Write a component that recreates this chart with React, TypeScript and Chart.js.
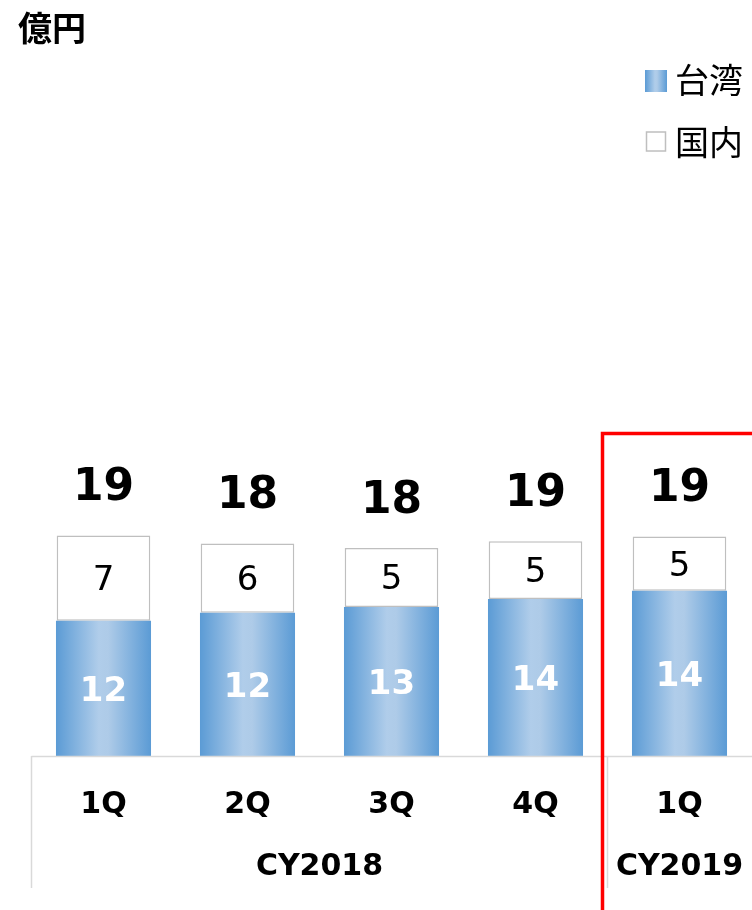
import React, { useEffect, useRef } from "react";
import { Chart, registerables } from "chart.js";
Chart.register(...registerables);

const categories = ["1Q", "2Q", "3Q", "4Q", "1Q"];
const years = ["CY2018", "CY2019"];
const yearSpans = [4, 1];
const taiwan = [11.7, 12.4, 12.9, 13.6, 14.3];
const domestic = [7.4, 6.0, 5.1, 5.0, 4.7];
const unitLabel = "億円";
const seriesNames = ["台湾", "国内"];

const W = 752;
const H = 910;
const BAR_PCT = 0.66;
const LATIN = '"DejaVu Sans", Verdana, sans-serif';
const CJK = '"Noto Sans CJK JP", "Noto Sans CJK SC", sans-serif';

function blueGradient(ctx: CanvasRenderingContext2D, left: number, right: number) {
  const g = ctx.createLinearGradient(left, 0, right, 0);
  g.addColorStop(0, "#5b9bd5");
  g.addColorStop(0.45, "#b0cdea");
  g.addColorStop(0.55, "#aecbe8");
  g.addColorStop(1, "#5b9bd5");
  return g;
}

const overlay = {
  id: "overlay",
  afterDraw(chart: any) {
    const ctx: CanvasRenderingContext2D = chart.ctx;
    const area = chart.chartArea;
    const xs = chart.scales.x;
    const n = categories.length;
    const cw = area.width / n;
    const base = area.bottom;
    ctx.save();

    // title
    ctx.fillStyle = "#000";
    ctx.font = `bold 34px ${CJK}`;
    ctx.textAlign = "left";
    ctx.textBaseline = "middle";
    ctx.fillText(unitLabel, 18, 28);

    // legend
    const lx = 645;
    ctx.fillStyle = blueGradient(ctx, lx, lx + 22);
    ctx.fillRect(lx, 70, 22, 22);
    ctx.fillStyle = "#fff";
    ctx.fillRect(lx + 1.5, 132, 19, 19);
    ctx.strokeStyle = "#bfbfbf";
    ctx.lineWidth = 1.5;
    ctx.strokeRect(lx + 1.5, 132, 19, 19);
    ctx.fillStyle = "#000";
    ctx.font = `34px ${CJK}`;
    ctx.fillText(seriesNames[0], 675, 80);
    ctx.fillText(seriesNames[1], 675, 142);

    // table lines
    ctx.strokeStyle = "#d9d9d9";
    ctx.lineWidth = 1.5;
    ctx.beginPath();
    ctx.moveTo(area.left, base + 0.5);
    ctx.lineTo(W, base + 0.5);
    let acc = 0;
    ctx.moveTo(area.left, base);
    ctx.lineTo(area.left, 888);
    yearSpans.forEach((s, i) => {
      acc += s;
      if (i < yearSpans.length - 1) {
        const x = area.left + acc * cw;
        ctx.moveTo(x, base);
        ctx.lineTo(x, 888);
      }
    });
    ctx.stroke();

    // category labels
    ctx.fillStyle = "#000";
    ctx.textAlign = "center";
    ctx.font = `bold 30px ${LATIN}`;
    categories.forEach((c, i) => {
      ctx.fillText(c, xs.getPixelForValue(i), 805);
    });
    acc = 0;
    years.forEach((y, i) => {
      const x = area.left + (acc + yearSpans[i] / 2) * cw;
      acc += yearSpans[i];
      ctx.fillText(y, x, 867);
    });

    // data labels
    const m0 = chart.getDatasetMeta(0).data;
    const m1 = chart.getDatasetMeta(1).data;
    categories.forEach((_, i) => {
      const b = m0[i];
      const w = m1[i];
      ctx.fillStyle = "#fff";
      ctx.font = `bold 34px ${LATIN}`;
      ctx.fillText(String(Math.round(taiwan[i])), b.x, (b.y + b.base) / 2 + 4);
      ctx.fillStyle = "#000";
      ctx.font = `34px ${LATIN}`;
      ctx.fillText(String(Math.round(domestic[i])), w.x, (w.y + w.base) / 2 + 3);
      ctx.font = `bold 44px ${LATIN}`;
      ctx.fillText(String(Math.round(taiwan[i] + domestic[i])), w.x, w.y - 47);
    });

    // highlight
    ctx.strokeStyle = "#ff0000";
    ctx.lineWidth = 3.5;
    ctx.strokeRect(602.5, 433.5, 400, 600);
    ctx.restore();
  },
};

export default function App() {
  const ref = useRef<HTMLCanvasElement | null>(null);
  useEffect(() => {
    document.body.style.margin = "0";
    const canvas = ref.current!;
    const chart = new Chart(canvas, {
      type: "bar",
      data: {
        labels: categories,
        datasets: [
          {
            label: seriesNames[0],
            data: taiwan,
            backgroundColor: (c: any) => {
              const ch = c.chart;
              const xs = ch.scales?.x;
              if (!xs || !ch.chartArea) return "#5b9bd5";
              const x = xs.getPixelForValue(c.dataIndex);
              const half = (ch.chartArea.width / categories.length) * BAR_PCT / 2;
              return blueGradient(ch.ctx, x - half, x + half);
            },
            borderWidth: 0,
            barPercentage: BAR_PCT,
            categoryPercentage: 1,
          },
          {
            label: seriesNames[1],
            data: domestic,
            backgroundColor: "#ffffff",
            borderColor: "#bfbfbf",
            borderWidth: 1.5,
            borderSkipped: false,
            barPercentage: BAR_PCT - 0.01,
            categoryPercentage: 1,
          },
        ],
      },
      options: {
        responsive: false,
        animation: false,
        devicePixelRatio: 1,
        layout: { padding: { left: 31.5, right: 0.5, top: 294, bottom: 154 } },
        plugins: { legend: { display: false }, tooltip: { enabled: false }, title: { display: false } },
        scales: {
          x: { display: false, stacked: true },
          y: { display: false, stacked: true, min: 0, max: 40 },
        },
      },
      plugins: [overlay],
    } as any);
    return () => chart.destroy();
  }, []);
  return (
    <div style={{ position: "absolute", left: 0, top: 0, width: W, height: H, background: "#fff" }}>
      <canvas ref={ref} width={W} height={H} style={{ display: "block", width: W, height: H }} />
    </div>
  );
}
